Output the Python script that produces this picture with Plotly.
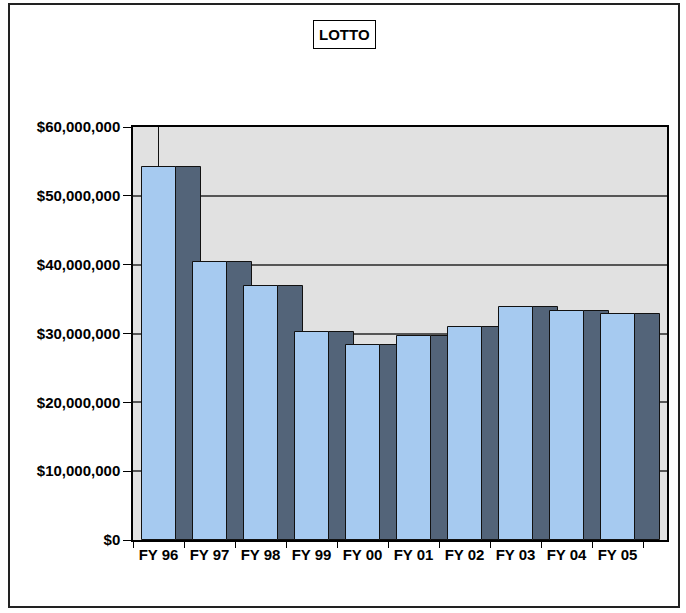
import plotly.graph_objects as go

categories = ["FY 96", "FY 97", "FY 98", "FY 99", "FY 00", "FY 01", "FY 02", "FY 03", "FY 04", "FY 05"]
sales = [54200000, 40400000, 36900000, 30200000, 28300000, 29700000, 30900000, 33800000, 33200000, 32900000]
y_ticks = [0, 10000000, 20000000, 30000000, 40000000, 50000000, 60000000]
title_text = "LOTTO"

FONT = "Arial, Liberation Sans, sans-serif"
W, H = 686, 613
L, R, T, B = 133, 667, 127, 540
pw, ph = R - L, B - T

def px(x):
    return (x - L) / pw

def py(y):
    return (B - y) / ph

fig = go.Figure()

# dark "side" bars (drawn first, behind)
fig.add_trace(go.Bar(
    x=categories, y=sales,
    offset=0.343, width=0.49,
    marker=dict(color="#536479", line=dict(color="#111111", width=1)),
    hoverinfo="skip", showlegend=False,
))
# light front bars
fig.add_trace(go.Bar(
    x=categories, y=sales,
    offset=-0.324, width=0.667,
    marker=dict(color="#a6caf0", line=dict(color="#111111", width=1)),
    showlegend=False,
))
# leader line above first bar
fig.add_trace(go.Scatter(
    x=[categories[0], categories[0]], y=[sales[0], y_ticks[-1]],
    mode="lines", line=dict(color="#111111", width=1),
    hoverinfo="skip", showlegend=False,
))

fig.update_layout(
    width=W, height=H,
    margin=dict(l=L, r=W - R, t=T, b=H - B, autoexpand=False),
    paper_bgcolor="white",
    plot_bgcolor="#e1e1e1",
    barmode="overlay",
    bargap=0,
    font=dict(family=FONT, size=15, color="black"),
    xaxis=dict(
        type="category",
        categoryorder="array", categoryarray=categories,
        range=[-0.5, 9.97],
        showline=True, linecolor="black", linewidth=2, mirror=True,
        ticks="outside", tickson="boundaries", ticklen=6, tickcolor="black", tickwidth=1,
        showgrid=False, zeroline=False,
        tickfont=dict(family=FONT, size=15, color="black", weight="bold"),
    ),
    yaxis=dict(
        range=[0, 60000000],
        tickvals=y_ticks,
        tickformat="$,.0f",
        showline=True, linecolor="black", linewidth=1.5, mirror=True,
        ticks="outside", ticklen=8, tickcolor="black", tickwidth=1,
        showgrid=True, gridcolor="#555555", gridwidth=1.5,
        zeroline=False,
        tickfont=dict(family=FONT, size=15, color="black", weight="bold"),
    ),
    shapes=[
        dict(type="rect", xref="paper", yref="paper",
             x0=px(9), x1=px(679), y0=py(607), y1=py(4),
             line=dict(color="#222222", width=2), fillcolor="rgba(0,0,0,0)", layer="below"),
    ],
    annotations=[
        dict(text="<b>" + title_text + "</b>", xref="paper", yref="paper",
             x=px(344), y=py(35), xanchor="center", yanchor="middle",
             showarrow=False, font=dict(family=FONT, size=15, color="black"),
             bordercolor="black", borderwidth=1, borderpad=5, bgcolor="white"),
    ],
)

fig.write_html("out.html")
